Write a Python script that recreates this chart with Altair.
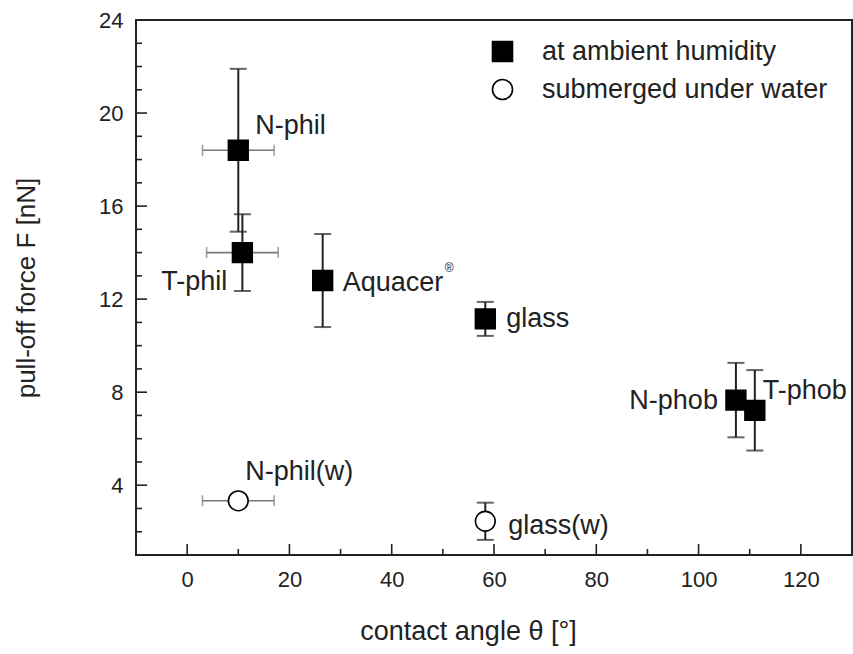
import altair as alt
import pandas as pd

# ---- data ----
names = ["N-phil", "T-phil", "Aquacer", "glass", "N-phob", "T-phob", "N-phil(w)", "glass(w)"]
condition = ["at ambient humidity"] * 6 + ["submerged under water"] * 2
angle = [10.0, 10.8, 26.5, 58.3, 107.3, 111.0, 10.0, 58.3]
angle_err = [7.0, 7.0, 0.0, 0.0, 0.0, 0.0, 7.0, 0.0]
force = [18.4, 14.0, 12.8, 11.15, 7.66, 7.22, 3.33, 2.45]
force_err = [3.5, 1.65, 2.0, 0.73, 1.6, 1.73, 0.2, 0.8]

x_major = [0, 20, 40, 60, 80, 100, 120]
x_minor = [10, 30, 50, 70, 90, 110]
y_major = [4, 8, 12, 16, 20, 24]
y_minor = [2, 3, 5, 6, 7, 9, 10, 11, 13, 14, 15, 17, 18, 19, 21, 22, 23]

# ---- label styling (offsets from marker, px) ----
lab_dx = [17, -15, 20, 21, -18, 8, 7, 23]
lab_dy = [-24, 29, 2, 0, 1, -19, -29, 5]
lab_align = ["left", "right", "left", "left", "right", "left", "left", "left"]

FONT = "Liberation Sans"
W, H = 716, 535
cond_domain = ["at ambient humidity", "submerged under water"]

df = pd.DataFrame({
    "name": names, "cond": condition, "x": angle, "xe": angle_err,
    "y": force, "ye": force_err,
})
df["ylo"] = df["y"] - df["ye"]
df["yhi"] = df["y"] + df["ye"]
df["xlo"] = df["x"] - df["xe"]
df["xhi"] = df["x"] + df["xe"]

xs = alt.Scale(domain=[-10, 130], nice=False, zero=False)
ys = alt.Scale(domain=[1, 24], nice=False, zero=False)

xaxis = alt.Axis(values=x_major, ticks=False, domain=False, grid=False,
                 labelFontSize=22, labelFont=FONT, labelColor="#222",
                 labelPadding=14, title="contact angle θ [°]",
                 titleFont=FONT, titleFontSize=27, titleFontWeight="normal",
                 titleColor="#222", titlePadding=28, titleX=332, titleAnchor="middle")
yaxis = alt.Axis(values=y_major, ticks=False, domain=False, grid=False,
                 labelFontSize=22, labelFont=FONT, labelColor="#222",
                 labelPadding=13, title="pull-off force F [nN]",
                 titleFont=FONT, titleFontSize=26, titleFontWeight="normal",
                 titleColor="#222", titlePadding=59)

base = alt.Chart(df)

vbar = base.mark_rule(color="#222", strokeWidth=2).encode(
    x=alt.X("x:Q", scale=xs, axis=xaxis),
    y=alt.Y("ylo:Q", scale=ys, axis=yaxis),
    y2="yhi:Q",
)
vcap_lo = base.mark_tick(orient="horizontal", color="#222", size=17, thickness=2).encode(
    x=alt.X("x:Q", scale=xs), y=alt.Y("ylo:Q", scale=ys))
vcap_hi = base.mark_tick(orient="horizontal", color="#222", size=17, thickness=2).encode(
    x=alt.X("x:Q", scale=xs), y=alt.Y("yhi:Q", scale=ys))

hdf = base.transform_filter("datum.xe > 0")
hbar = hdf.mark_rule(color="#777", strokeWidth=1.6).encode(
    x=alt.X("xlo:Q", scale=xs), x2="xhi:Q", y=alt.Y("y:Q", scale=ys))
hcap_lo = hdf.mark_tick(orient="vertical", color="#777", size=11, thickness=1.6).encode(
    x=alt.X("xlo:Q", scale=xs), y=alt.Y("y:Q", scale=ys))
hcap_hi = hdf.mark_tick(orient="vertical", color="#777", size=11, thickness=1.6).encode(
    x=alt.X("xhi:Q", scale=xs), y=alt.Y("y:Q", scale=ys))

leg = alt.Legend(title=None, orient="none", legendX=353, legendY=18,
                 symbolSize=400, labelFontSize=27, labelFont=FONT, labelLimit=0,
                 labelColor="#222", labelOffset=26, padding=0,
                 rowPadding=10, symbolStrokeWidth=1.6)

points = base.mark_point(filled=False, size=390, strokeWidth=1.6, opacity=1).encode(
    x=alt.X("x:Q", scale=xs),
    y=alt.Y("y:Q", scale=ys),
    shape=alt.Shape("cond:N", scale=alt.Scale(domain=cond_domain, range=["square", "circle"]),
                    legend=leg),
    fill=alt.Fill("cond:N", scale=alt.Scale(domain=cond_domain, range=["black", "white"]),
                  legend=leg),
    stroke=alt.Stroke("cond:N", scale=alt.Scale(domain=cond_domain, range=["black", "black"]),
                      legend=leg),
)

labels = []
for i in range(len(names)):
    labels.append(
        base.transform_filter(alt.datum.name == names[i]).mark_text(
            font=FONT, fontSize=27, color="#222", align=lab_align[i], baseline="middle",
            dx=lab_dx[i], dy=lab_dy[i]
        ).encode(x=alt.X("x:Q", scale=xs), y=alt.Y("y:Q", scale=ys), text="name:N")
    )

reg = base.transform_filter(alt.datum.name == "Aquacer").mark_text(
    font=FONT, fontSize=12, color="#222", align="left", baseline="middle", dx=122, dy=-13
).encode(x=alt.X("x:Q", scale=xs), y=alt.Y("y:Q", scale=ys), text=alt.value("®"))

# inward ticks
xt_major = alt.Chart(pd.DataFrame({"v": x_major})).mark_rule(color="#222", strokeWidth=1.6).encode(
    x=alt.X("v:Q", scale=xs), y=alt.value(H), y2=alt.value(H - 11))
xt_minor = alt.Chart(pd.DataFrame({"v": x_minor})).mark_rule(color="#222", strokeWidth=1.6).encode(
    x=alt.X("v:Q", scale=xs), y=alt.value(H), y2=alt.value(H - 6))
yt_major = alt.Chart(pd.DataFrame({"v": y_major})).mark_rule(color="#222", strokeWidth=1.6).encode(
    y=alt.Y("v:Q", scale=ys), x=alt.value(0), x2=alt.value(11))
yt_minor = alt.Chart(pd.DataFrame({"v": y_minor})).mark_rule(color="#222", strokeWidth=1.6).encode(
    y=alt.Y("v:Q", scale=ys), x=alt.value(0), x2=alt.value(6))

chart = alt.layer(
    vbar, vcap_lo, vcap_hi, hbar, hcap_lo, hcap_hi,
    xt_major, xt_minor, yt_major, yt_minor,
    points, *labels, reg,
).properties(
    width=W, height=H,
    autosize=alt.AutoSizeParams(type="none"),
    padding={"left": 136, "top": 20, "right": 1, "bottom": 99},
    background="white",
).configure_view(stroke="#222", strokeWidth=2)

chart.save("out.html", embed_options={"renderer": "svg", "actions": False})
